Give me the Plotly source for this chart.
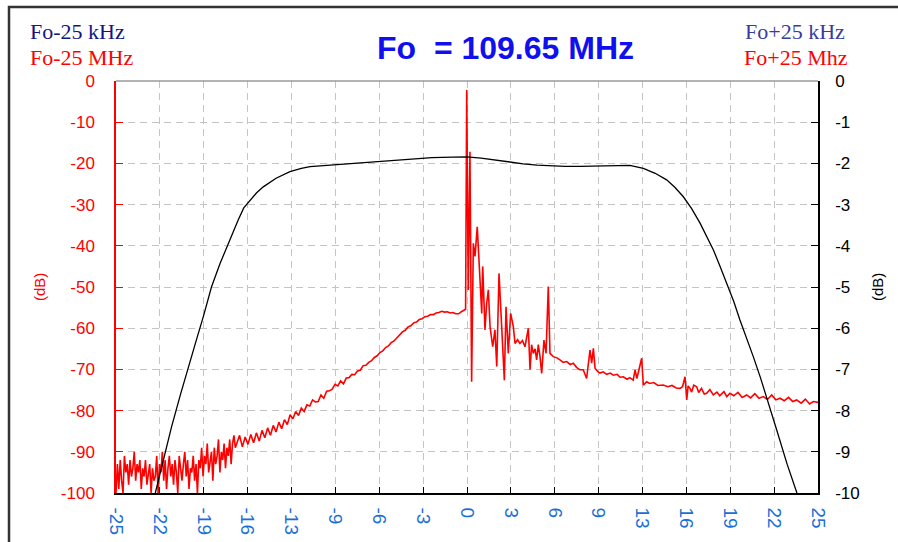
import plotly.graph_objects as go

# ---------------- data ----------------
x_tick_vals = [-25, -21.875, -18.75, -15.625, -12.5, -9.375, -6.25, -3.125, 0,
               3.125, 6.25, 9.375, 12.5, 15.625, 18.75, 21.875, 25]
x_tick_text = ["-25", "-22", "-19", "-16", "-13", "-9", "-6", "-3", "0",
               "3", "6", "9", "13", "16", "19", "22", "25"]
left_ticks = [0, -10, -20, -30, -40, -50, -60, -70, -80, -90, -100]
left_tick_text = ["0", "-10", "-20", "-30", "-40", "-50", "-60", "-70", "-80", "-90", "-100"]
right_ticks = [0, -1, -2, -3, -4, -5, -6, -7, -8, -9, -10]
right_tick_text = ["0", "-1", "-2", "-3", "-4", "-5", "-6", "-7", "-8", "-9", "-10"]

# red trace (Fo +/- 25 MHz span), noisy low part sampled every 0.1 MHz from -25
red_noise_start = -25.0
red_noise_step = 0.1
red_noise_db = [
    -100, -93, -99, -92, -97, -100, -91, -95, -93, -98, -92, -96, -94, -90,
    -97, -93, -95, -92, -99, -94, -96, -92, -98, -95, -93, -100, -94, -97,
    -96, -91, -100, -93, -95, -90, -97, -92, -99, -94, -91, -96, -93, -98,
    -92, -95, -100, -91, -94, -97, -93, -90, -96, -92, -99, -94, -95, -91,
    -97, -93, -100, -92,
    -94, -89, -96, -91, -93, -88, -95, -92, -90, -97, -89, -93, -91, -87,
    -95, -90, -92, -88, -94, -89, -91, -87, -93, -88, -86, -89,
]

red_x = [
    -16.4, -16.2, -16.0, -15.8, -15.6, -15.4, -15.2, -15.0, -14.8, -14.6, -14.4,
    -14.2, -14.0, -13.8, -13.6, -13.4, -13.2, -13.0, -12.8, -12.6, -12.4, -12.2,
    -12.0, -11.8, -11.6, -11.4, -11.2, -11.0, -10.8, -10.6, -10.4, -10.2, -10.0,
    -9.8, -9.6, -9.4, -9.2, -9.0, -8.8, -8.6, -8.4, -8.2, -8.0, -7.8, -7.6, -7.4,
    -7.2, -7.0, -6.8, -6.6, -6.4, -6.2, -6.0, -5.8, -5.6, -5.4, -5.2, -5.0, -4.8,
    -4.6, -4.4, -4.2, -4.0, -3.8, -3.6, -3.4, -3.2, -3.0, -2.8, -2.6, -2.4, -2.2,
    -2.0, -1.8, -1.6, -1.4, -1.2, -1.0, -0.8, -0.6, -0.4, -0.2, -0.1,
    -0.02, 0.09, 0.21, 0.33, 0.45, 0.57, 0.73, 0.93, 1.05, 1.12, 1.28, 1.40,
    1.52, 1.64, 1.83, 1.99, 2.12, 2.28, 2.47, 2.66, 2.78, 2.94, 3.11, 3.30, 3.42,
    3.6, 3.77, 3.95, 4.13, 4.37, 4.49, 4.6, 4.72, 4.85, 4.96, 5.08, 5.20, 5.32,
    5.48, 5.63, 5.79, 5.91, 6.15, 6.4, 6.62, 6.85, 7.10, 7.35, 7.57, 7.8, 8.05,
    8.28, 8.52, 8.76, 8.88, 9.0, 9.12, 9.3, 9.47, 9.7, 9.95, 10.2, 10.42, 10.7,
    10.9, 11.13, 11.4, 11.6, 11.84, 11.97, 12.1, 12.20, 12.44, 12.56, 12.80,
    13.0, 13.3, 13.6, 13.98, 14.3, 14.6, 14.9, 15.17, 15.35, 15.53, 15.65, 15.75,
    15.88, 16.0, 16.15, 16.36, 16.5, 16.7, 16.9, 17.07, 17.3, 17.54, 17.8, 18.0,
    18.3, 18.5, 18.73, 19.0, 19.3, 19.6, 19.92, 20.2, 20.5, 20.8, 21.10, 21.4,
    21.7, 22.0, 22.29, 22.6, 22.9, 23.2, 23.48, 23.8, 24.1, 24.4, 24.67, 25.0,
]
red_db = [
    -88, -86.0, -88.8, -86.4, -88.2, -85.8, -87.8, -85.4, -87.4, -84.8, -86.6,
    -84.2, -86.0, -83.6, -85.2, -82.8, -84.4, -82.2, -83.4, -81.0, -82.0, -80.2,
    -81.2, -79.4, -80.2, -78.6, -78.9, -77.4, -77.9, -77.8, -76.2, -77.0, -75.3,
    -75.2, -74.8, -73.6, -74.0, -72.8, -73.5, -72.1, -72.0, -71.2, -71.3, -70.4,
    -70.2, -69.1, -69.0, -68.3, -67.9, -67.1, -66.7, -65.9, -65.5, -64.7, -64.3,
    -63.5, -63.1, -62.3, -61.7, -60.9, -60.5, -59.7, -59.4, -58.7, -58.5, -57.9,
    -57.7, -57.2, -57.1, -56.7, -56.7, -56.3, -56.2, -55.9, -56.1, -56.0, -56.3,
    -56.2, -56.5, -56.5, -56.0, -55.6, -55.4,
    -2.2, -50.7, -17.2, -73.0, -39.4, -42.6, -35.4, -48.3, -56.4, -45.0, -60.4,
    -54.0, -50.7, -59.6, -64.5, -60.4, -69.3, -46.7, -61.2, -72.6, -54.8, -66.1,
    -56.4, -59.6, -63.7, -62.8, -63.7, -63.0, -64.5, -60.0, -70.1, -64.0, -66.1,
    -65.0, -67.7, -64.0, -66.9, -71.0, -62.9, -66.1, -49.9, -66.1, -66.9, -67.2,
    -67.7, -68.3, -68.1, -68.8, -68.5, -69.5, -70.1, -70.1, -72.2, -65.3, -68.5,
    -64.9, -69.7, -70.5, -70.9, -70.6, -71.2, -70.9, -71.4, -71.2, -71.9, -71.8,
    -72.4, -72.0, -72.6, -70.1, -72.2, -70.9, -67.3, -73.8, -73.0, -73.4, -73.2,
    -73.9, -73.8, -74.2, -73.9, -74.5, -74.6, -74.2, -71.8, -77.4, -74.0, -74.6,
    -75.5, -73.8, -74.2, -75.6, -74.6, -76.0, -75.8, -74.9, -76.2, -75.5, -76.4,
    -75.4, -76.6, -75.8, -76.4, -75.6, -76.8, -76.2, -76.9, -75.9, -77.0, -76.6,
    -77.3, -76.2, -77.4, -77.0, -77.6, -76.8, -77.8, -77.4, -78.2, -77.2, -78.4,
    -77.8, -78.0,
]

# black trace (Fo +/- 25 kHz span, right axis)
black_x = [
    -22.2, -21.65, -21.04, -20.4, -19.73, -19.2, -18.78, -18.2, -17.59, -16.9,
    -16.29, -15.9, -15.46, -15.0, -14.51, -13.6, -12.61, -11.8, -11.18, -10.0,
    -8.5, -7.0, -5.5, -4.0, -2.5, -1.0, 0.0, 1.0, 2.0, 3.0, 4.0, 5.0, 6.0, 7.0,
    8.05, 9.0, 10.0, 11.6, 12.56, 13.4, 14.22, 14.8, 15.41, 16.0, 16.6, 17.1,
    17.55, 18.0, 18.5, 19.0, 19.44, 19.9, 20.39, 20.9, 21.34, 22.06, 22.8, 23.5,
]
black_db = [
    -10.0, -9.2, -8.39, -7.6, -6.85, -6.2, -5.72, -5.0, -4.43, -3.85,
    -3.37, -3.08, -2.89, -2.72, -2.57, -2.36, -2.20, -2.12, -2.08, -2.05,
    -2.02, -1.98, -1.93, -1.89, -1.86, -1.85, -1.84, -1.87, -1.92, -1.97, -2.01,
    -2.04, -2.06, -2.07, -2.07, -2.06, -2.05, -2.05, -2.12, -2.24, -2.40, -2.58,
    -2.81, -3.1, -3.45, -3.8, -4.10, -4.48, -4.91, -5.35, -5.80, -6.22, -6.69,
    -7.2, -7.66, -8.47, -9.3, -10.0,
]

red_full_x = [round(red_noise_start + red_noise_step * i, 2) for i in range(len(red_noise_db))] + red_x
red_full_db = red_noise_db + red_db

# ---------------- figure ----------------
W, H = 898, 542
ML, MR, MT, MB = 116, 80, 81, 49
PW, PH = W - ML - MR, H - MT - MB


def px(xp):
    return (xp - ML) / PW


def py(yp):
    return (H - MB - yp) / PH


ARIAL = "Arial, Liberation Sans, sans-serif"
SERIF = "Times New Roman, Liberation Serif, serif"
GRID = "#c4c4c4"

fig = go.Figure()
fig.add_trace(go.Scatter(x=red_full_x, y=red_full_db, mode="lines",
                         line=dict(color="#ff0000", width=1.6), yaxis="y",
                         showlegend=False, hoverinfo="skip"))
fig.add_trace(go.Scatter(x=black_x, y=black_db, mode="lines",
                         line=dict(color="#000000", width=1.3), yaxis="y2",
                         showlegend=False, hoverinfo="skip"))

fig.update_layout(
    width=W, height=H,
    margin=dict(l=ML, r=MR, t=MT, b=MB, pad=0, autoexpand=False),
    paper_bgcolor="white", plot_bgcolor="white",
    xaxis=dict(range=[-25, 25], tickvals=x_tick_vals, ticktext=x_tick_text,
               tickangle=90, tickfont=dict(family=ARIAL, size=19, color="#1a6fd6"),
               ticks="inside", ticklen=6, tickcolor="black", tickwidth=1,
               showline=True, linecolor="black", linewidth=1.5,
               showgrid=True, gridcolor=GRID, griddash="7px,5px", gridwidth=1,
               zeroline=False, ticklabelstandoff=9, automargin=False),
    yaxis=dict(range=[-100, 0], tickvals=left_ticks, ticktext=left_tick_text,
               tickfont=dict(family=ARIAL, size=17, color="#ff0000"),
               ticks="inside", ticklen=7, tickcolor="#ff0000",
               showline=True, linecolor="#ff0000", linewidth=1.5,
               showgrid=True, gridcolor=GRID, griddash="7px,5px", gridwidth=1,
               zeroline=False, ticklabelstandoff=16, automargin=False),
    yaxis2=dict(range=[-10, 0], tickvals=right_ticks, ticktext=right_tick_text,
                overlaying="y", side="right",
                tickfont=dict(family=ARIAL, size=17, color="black"),
                ticks="inside", ticklen=7, tickcolor="black",
                showline=True, linecolor="black", linewidth=1.5,
                showgrid=False, zeroline=False, ticklabelstandoff=12, automargin=False),
    shapes=[
        dict(type="line", xref="paper", yref="paper", x0=0, x1=1, y0=1, y1=1,
             line=dict(color="#9a9a9a", width=1.5)),
        dict(type="rect", xref="paper", yref="paper",
             x0=px(9), x1=px(905), y0=py(550), y1=py(7),
             line=dict(color="#333333", width=2.5), fillcolor="rgba(0,0,0,0)"),
    ],
    annotations=[
        dict(text="Fo\u00a0 = 109.65 MHz", xref="paper", yref="paper",
             x=px(505), y=py(48), xanchor="center", yanchor="middle", showarrow=False,
             font=dict(family=ARIAL, size=32, color="#1010ee", weight="bold")),
        dict(text="Fo-25 kHz", xref="paper", yref="paper", x=px(29), y=py(32),
             xanchor="left", yanchor="middle", showarrow=False, borderpad=0,
             font=dict(family=SERIF, size=22, color="#141480")),
        dict(text="Fo-25 MHz", xref="paper", yref="paper", x=px(29), y=py(58),
             xanchor="left", yanchor="middle", showarrow=False, borderpad=0,
             font=dict(family=SERIF, size=22, color="#ff0000")),
        dict(text="Fo+25 kHz", xref="paper", yref="paper", x=px(846), y=py(32),
             xanchor="right", yanchor="middle", showarrow=False, borderpad=0,
             font=dict(family=SERIF, size=22, color="#3b3b9c")),
        dict(text="Fo+25 Mhz", xref="paper", yref="paper", x=px(849), y=py(58),
             xanchor="right", yanchor="middle", showarrow=False, borderpad=0,
             font=dict(family=SERIF, size=22, color="#ff0000")),
        dict(text="(dB)", xref="paper", yref="paper", x=px(39), y=py(287),
             xanchor="center", yanchor="middle", textangle=-90, showarrow=False,
             font=dict(family=ARIAL, size=15, color="#ff0000")),
        dict(text="(dB)", xref="paper", yref="paper", x=px(877), y=py(287),
             xanchor="center", yanchor="middle", textangle=-90, showarrow=False,
             font=dict(family=ARIAL, size=15, color="black")),
    ],
)

fig.write_html("out.html", config={"displayModeBar": False},
               post_script="document.body.style.margin='0';document.body.style.overflow='hidden';")
